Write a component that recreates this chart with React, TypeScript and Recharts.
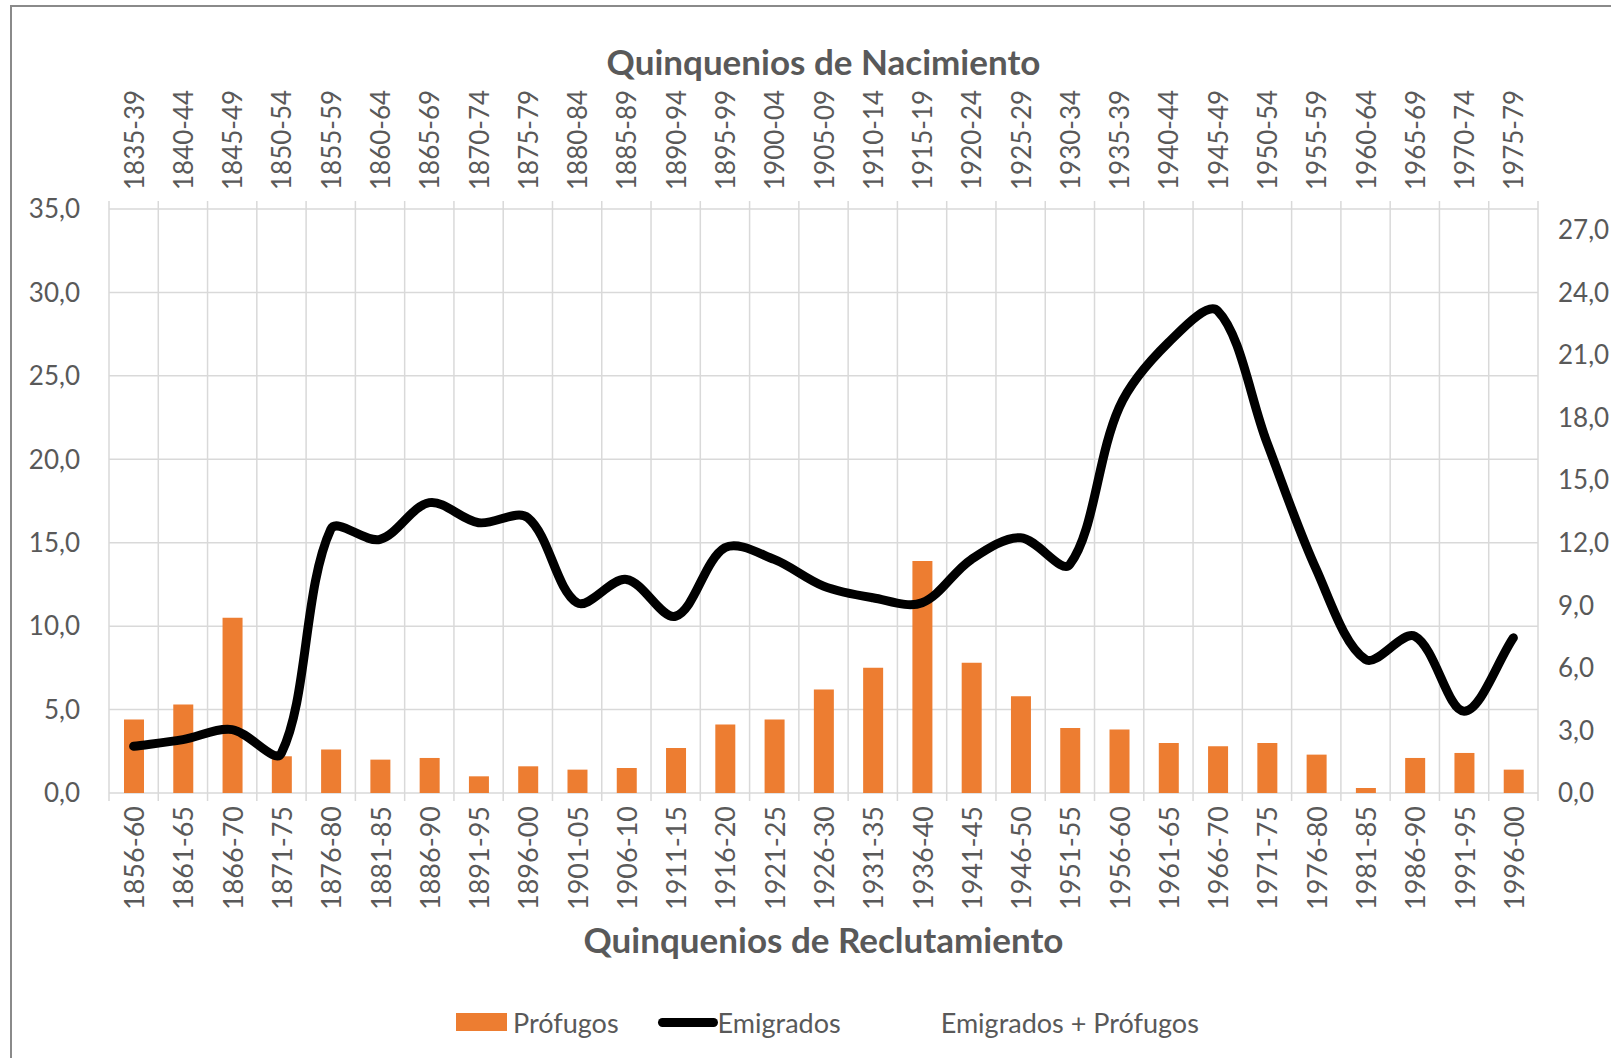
import React from 'react';
import { ComposedChart, Bar, Line, XAxis, YAxis, CartesianGrid, Legend } from 'recharts';

const FONT = 'Lato, "Open Sans", sans-serif';
const TEXT = '#595959';
const GRID = '#D9D9D9';

const reclutamiento = [
  '1856-60', '1861-65', '1866-70', '1871-75', '1876-80', '1881-85', '1886-90', '1891-95', '1896-00',
  '1901-05', '1906-10', '1911-15', '1916-20', '1921-25', '1926-30', '1931-35', '1936-40', '1941-45',
  '1946-50', '1951-55', '1956-60', '1961-65', '1966-70', '1971-75', '1976-80', '1981-85', '1986-90',
  '1991-95', '1996-00',
];
const nacimiento = [
  '1835-39', '1840-44', '1845-49', '1850-54', '1855-59', '1860-64', '1865-69', '1870-74', '1875-79',
  '1880-84', '1885-89', '1890-94', '1895-99', '1900-04', '1905-09', '1910-14', '1915-19', '1920-24',
  '1925-29', '1930-34', '1935-39', '1940-44', '1945-49', '1950-54', '1955-59', '1960-64', '1965-69',
  '1970-74', '1975-79',
];
const profugos = [
  4.4, 5.3, 10.5, 2.2, 2.6, 2.0, 2.1, 1.0, 1.6, 1.4, 1.5, 2.7, 4.1, 4.4, 6.2, 7.5, 13.9, 7.8, 5.8,
  3.9, 3.8, 3.0, 2.8, 3.0, 2.3, 0.3, 2.1, 2.4, 1.4,
];
const emigrados = [
  2.8, 3.2, 3.8, 2.4, 15.8, 15.2, 17.4, 16.2, 16.5, 11.4, 12.8, 10.6, 14.7, 14.0, 12.4, 11.7, 11.4,
  14.0, 15.3, 13.7, 23.1, 27.0, 28.9, 21.0, 13.4, 8.0, 9.4, 4.9, 9.3,
];
const leftTicks = [0, 5, 10, 15, 20, 25, 30, 35];
const rightTicks = [0, 3, 6, 9, 12, 15, 18, 21, 24, 27];
const legendItems = [
  { label: 'Prófugos', kind: 'rect' },
  { label: 'Emigrados', kind: 'line' },
  { label: 'Emigrados + Prófugos', kind: 'none' },
];

const data = reclutamiento.map((r, i) => ({
  recl: r,
  nac: nacimiento[i],
  profugos: profugos[i],
  emigrados: emigrados[i],
}));
const N = reclutamiento.length;

const CHART_W = 1611;
const CHART_H = 1058;
const LEFT_W = 109;
const RIGHT_W = 73;
const TOP_H = 209;
const BOTTOM_H = 265;
const BAND = (CHART_W - LEFT_W - RIGHT_W) / N;

const fmt = (v: number) => v.toFixed(1).replace('.', ',');

// Excel-like smoothing: Bezier with chord-length-weighted Catmull-Rom tangents
function smoothCurve(context: any) {
  let pts: number[][] = [];
  const dist = (a: number[], b: number[]) => Math.hypot(b[0] - a[0], b[1] - a[1]);
  return {
    areaStart() {},
    areaEnd() {},
    lineStart() { pts = []; },
    point(x: number, y: number) { pts.push([+x, +y]); },
    lineEnd() {
      const n = pts.length;
      if (!n) return;
      context.moveTo(pts[0][0], pts[0][1]);
      if (n === 1) return;
      for (let i = 0; i < n - 1; i++) {
        const p0 = pts[Math.max(i - 1, 0)];
        const p1 = pts[i];
        const p2 = pts[i + 1];
        const p3 = pts[Math.min(i + 2, n - 1)];
        const d01 = dist(p0, p1), d12 = dist(p1, p2), d23 = dist(p2, p3);
        const f1 = d01 + d12 > 0 ? d12 / (d01 + d12) / 3 : 0;
        const f2 = d12 + d23 > 0 ? d12 / (d12 + d23) / 3 : 0;
        context.bezierCurveTo(
          p1[0] + (p2[0] - p0[0]) * f1, p1[1] + (p2[1] - p0[1]) * f1,
          p2[0] - (p3[0] - p1[0]) * f2, p2[1] - (p3[1] - p1[1]) * f2,
          p2[0], p2[1],
        );
      }
    },
  };
}

const TickMarks = ({ cx, y0, dir, index, half }: any) => (
  <>
    <line x1={cx - half} x2={cx - half} y1={y0} y2={y0 + dir * 8} stroke={GRID} strokeWidth={1.5} />
    {index === N - 1 && (
      <line x1={cx + half} x2={cx + half} y1={y0} y2={y0 + dir * 8} stroke={GRID} strokeWidth={1.5} />
    )}
  </>
);

const TopTick = (props: any) => {
  const { x, y, payload, index } = props;
  const half = payload && payload.offset ? payload.offset : BAND / 2;
  return (
    <g>
      <TickMarks cx={x} y0={TOP_H} dir={-1} index={index} half={half} />
      <text x={x} y={y} transform={`rotate(-90 ${x} ${y})`} textAnchor="start" dominantBaseline="central"
        fill={TEXT} fontSize={26} fontFamily={FONT}>{payload.value}</text>
    </g>
  );
};
const BottomTick = (props: any) => {
  const { x, y, payload, index } = props;
  const half = payload && payload.offset ? payload.offset : BAND / 2;
  return (
    <g>
      <TickMarks cx={x} y0={CHART_H - BOTTOM_H} dir={1} index={index} half={half} />
      <text x={x} y={y} transform={`rotate(-90 ${x} ${y})`} textAnchor="end" dominantBaseline="central"
        fill={TEXT} fontSize={27} fontFamily={FONT}>{payload.value}</text>
    </g>
  );
};

const LegendContent = () => (
  <div style={{ position: 'absolute', left: 456, top: 0, height: 34, display: 'flex', alignItems: 'center',
    fontFamily: FONT, fontSize: 27, color: TEXT, whiteSpace: 'nowrap' }}>
    {legendItems.map((it, i) => (
      <div key={it.label} style={{ display: 'flex', alignItems: 'center', marginRight: i === 0 ? 39 : i === 1 ? 100 : 0 }}>
        {it.kind === 'rect' && <div style={{ width: 51, height: 18, background: '#ED7D31', marginRight: 6 }} />}
        {it.kind === 'line' && <div style={{ width: 60, height: 9, background: '#000', borderRadius: 5 }} />}
        <span>{it.label}</span>
      </div>
    ))}
  </div>
);

export default function App() {
  return (
    <div style={{ position: 'absolute', left: 0, top: 0, width: CHART_W, height: CHART_H, overflow: 'hidden', background: '#fff' }}>
      <div style={{ position: 'absolute', left: 10, top: 5, width: 1700, height: 1200, border: '2px solid #8a8a8a', boxSizing: 'border-box' }} />
      <ComposedChart width={CHART_W} height={CHART_H} data={data} margin={{ top: 0, right: 0, bottom: 0, left: 0 }}>
        <XAxis xAxisId="cat" dataKey="recl" orientation="bottom" height={BOTTOM_H} interval={0} tick={<BottomTick />}
          tickLine={false} axisLine={false} tickSize={0} tickMargin={13}
          label={{ value: 'Quinquenios de Reclutamiento', position: 'insideTop', offset: 135, fill: TEXT, fontSize: 35, fontWeight: 700, fontFamily: FONT }} />
        <XAxis xAxisId="catTop" dataKey="nac" orientation="top" height={TOP_H} interval={0} tick={<TopTick />}
          tickLine={false} axisLine={false} tickSize={0} tickMargin={19}
          label={{ value: 'Quinquenios de Nacimiento', position: 'insideTop', offset: 50, fill: TEXT, fontSize: 35, fontWeight: 700, fontFamily: FONT }} />
        <YAxis yAxisId="left" orientation="left" width={LEFT_W} domain={[0, 35]} ticks={leftTicks} tickFormatter={fmt}
          axisLine={false} tickLine={false} tickSize={0} tickMargin={29}
          tick={{ fill: TEXT, fontSize: 26, fontFamily: FONT }} />
        <YAxis yAxisId="right" orientation="right" width={RIGHT_W} domain={[0, 28]} ticks={rightTicks} tickFormatter={fmt}
          axisLine={false} tickLine={false} tickSize={0} tickMargin={20} allowDataOverflow
          tick={{ fill: TEXT, fontSize: 26, fontFamily: FONT }} />
        <CartesianGrid xAxisId="cat" yAxisId="left" stroke={GRID} strokeWidth={1.5} vertical horizontal
          verticalCoordinatesGenerator={({ offset }: any) =>
            Array.from({ length: N + 1 }, (_, i) => offset.left + (i * offset.width) / N)} />
        <Bar xAxisId="cat" yAxisId="left" dataKey="profugos" name="Prófugos" fill="#ED7D31" barSize={20} isAnimationActive={false} />
        <Line xAxisId="cat" yAxisId="left" dataKey="emigrados" name="Emigrados" stroke="#000" strokeWidth={9}
          strokeLinecap="round" strokeLinejoin="round" dot={false} activeDot={false} type={smoothCurve as any} isAnimationActive={false} />
        <Legend content={<LegendContent />} wrapperStyle={{ top: 1005, left: 0, bottom: 'auto', width: CHART_W, height: 0, overflow: 'visible' }} />
      </ComposedChart>
    </div>
  );
}
